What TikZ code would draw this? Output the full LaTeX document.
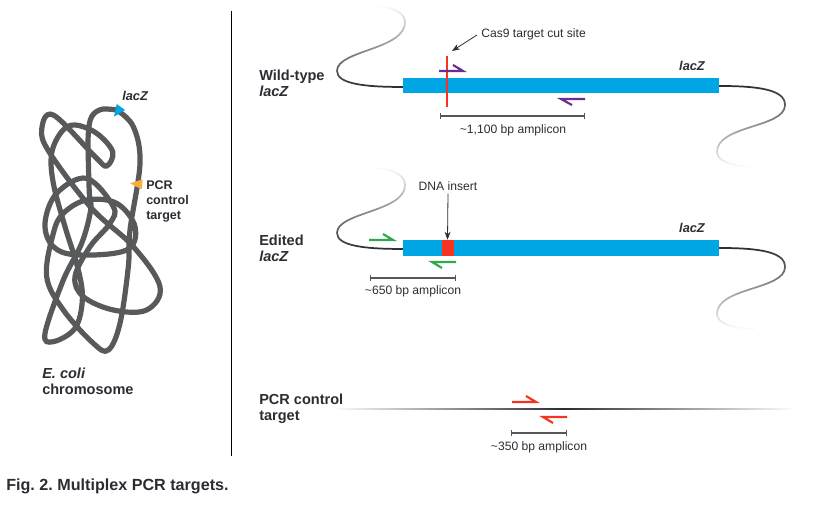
\documentclass[tikz,border=0pt]{standalone}
\usepackage{fontspec}
\setmainfont{Liberation Sans}
\usetikzlibrary{fadings,arrows.meta}
\definecolor{barblue}{HTML}{00A5E3}
\definecolor{chromgray}{HTML}{58595B}
\definecolor{inkdark}{HTML}{2B2D33}
\definecolor{cutred}{HTML}{F5341F}
\definecolor{primerpurple}{HTML}{6A2C91}
\definecolor{primergreen}{HTML}{2EA84A}
\definecolor{pinorange}{HTML}{F9AE3B}
\tikzfading[name=tailfade, bottom color=transparent!0, top color=transparent!100]
\tikzfading[name=taildown, top color=transparent!0, bottom color=transparent!100]
\tikzfading[name=midfade, left color=transparent!100, right color=transparent!100, middle color=transparent!0]
\frenchspacing
\tikzset{
	boldlabel/.style={inner sep=0pt, anchor=west, align=left, text=inkdark, font=\fontsize{10.9}{12}\selectfont\bfseries},
	smalllabel/.style={inner sep=0pt, text=inkdark, font=\fontsize{9.1}{10}\selectfont},
	genelabel/.style={inner sep=0pt, text=inkdark, font=\fontsize{9.6}{10}\selectfont\bfseries\itshape},
	genebar/.style={fill=barblue, draw=none},
	tailup/.style={line width=1.3pt, color=inkdark, path fading=tailfade},
	taillow/.style={line width=1.3pt, color=inkdark, path fading=taildown},
	primer/.style={line width=1.6pt, line join=miter},
	bracket/.style={line width=0.8pt, color=inkdark!80, {Bar[width=5pt]}-{Bar[width=5pt]}},
	pointer/.style={line width=0.6pt, color=inkdark, -{Stealth[length=6pt,width=4.5pt]}},
}

\begin{document}
\begin{tikzpicture}[x=0.75pt, y=-0.75pt]
			%%%%% START %%%%%
			\useasboundingbox (0, 0) rectangle (819, 505);
			
			\draw[line width=0.6pt, color=black] (231, 11) -- (231, 456);
			
			% chromosome
			\begin{scope}[shift={(20, 80)}, x=0.25pt, y=-0.25pt]
				\draw[line width=3.9pt, color=chromgray] plot[smooth, tension=0.6] coordinates {
					(290,90) (245,88) (215,110) (205,160) (205,240) (208,340) (212,390) (185,490) (130,600) (75,760) (100,785)
					(165,745) (187,660) (175,570) (135,440) (100,310) (95,220) (125,155) (165,135) (230,160) (278,215)
					(260,258) (225,230) (100,105) (65,150) (90,220) (215,385) (340,500) (420,620) (380,690) (280,690)
					(190,650) (165,590) (210,500) (270,430) (280,380) (200,295) (110,340) (75,430) (100,500) (175,525)
					(320,510) (345,440) (290,370) (200,360) (130,400) (100,460) (80,590) (130,690) (220,790) (265,810)
					(300,730) (325,560) (330,450) (360,250) (340,140) (290,90)};
				\fill[barblue] (290,72) -- (315,90) -- (282,110) -- cycle;
				\fill[pinorange] (330,310) -- (368,298) -- (365,328) -- cycle;
			\end{scope}
			\node[genelabel, anchor=west] (chromlacz) at (122, 95.5) {lacZ};
			\node[boldlabel, font=\fontsize{9.4}{11.3}\selectfont\bfseries] (pcrpin) at (146, 201.5) {PCR\\control\\target};
			\node[boldlabel] (chromlabel) at (42, 381.5) {\textit{E. coli}\\chromosome};
			
			% wild-type
			\node[boldlabel] (wildlabel) at (259, 83) {Wild-type\\\textit{lacZ}};
			\draw[tailup] (403, 87) .. controls (365, 87) and (337, 84) .. (337, 71) .. controls (337, 50) and (405, 50) .. (405, 22) .. controls (405, 10) and (385, 5) .. (363, 5);
			\draw[taillow] (719, 86) .. controls (760, 86) and (785, 90) .. (785, 105) .. controls (785, 128) and (717, 125) .. (717, 152) .. controls (717, 162) and (735, 167) .. (755, 167);
			\node[genebar, minimum width=316*0.75pt, minimum height=15*0.75pt, inner sep=0pt, anchor=north west] (wildbar) at (403, 78) {};
			\node[genelabel] (wildgene) at (692, 65.5) {lacZ};
			\draw[line width=1.4pt, color=cutred] (447, 56) -- (447, 107);
			\node[smalllabel, anchor=west] (caslabel) at (481, 34) {Cas9 target cut site};
			\coordinate (castip) at (452, 51);
			\draw[pointer] (caslabel.west) ++(-4, 1) -- (castip);
			\draw[primer, color=primerpurple] (439, 71) -- (463, 71) -- (453, 65);
			\draw[primer, color=primerpurple] (585, 99) -- (561, 99) -- (572, 105);
			\coordinate (wildleft) at (440, 116);
			\coordinate (wildright) at (585, 116);
			\draw[bracket] (wildleft) -- (wildright);
			\node[smalllabel] (wildamp) at (513, 130) {\textasciitilde 1,100 bp amplicon};
			
			% edited
			\node[boldlabel] (editlabel) at (259, 248.5) {Edited\\\textit{lacZ}};
			\draw[tailup] (403, 249) .. controls (365, 249) and (337, 246) .. (337, 233) .. controls (337, 212) and (405, 212) .. (405, 185) .. controls (405, 172) and (385, 167) .. (363, 167);
			\draw[taillow] (719, 248) .. controls (760, 248) and (785, 252) .. (785, 267) .. controls (785, 290) and (717, 287) .. (717, 314) .. controls (717, 324) and (735, 329) .. (755, 329);
			\node[genebar, minimum width=316*0.75pt, minimum height=16*0.75pt, inner sep=0pt, anchor=north west] (editbar) at (403, 240) {};
			\node[genelabel] (editgene) at (692, 227.5) {lacZ};
			\node[fill=cutred, minimum width=12*0.75pt, minimum height=16*0.75pt, inner sep=0pt] (insert) at (447.5, 248) {};
			\node[smalllabel] (insertlabel) at (448, 186) {DNA insert};
			\draw[pointer] (insertlabel.south) ++(0, 3) -- (insert.north);
			\draw[primer, color=primergreen] (369, 240) -- (393, 240) -- (383, 234);
			\draw[primer, color=primergreen] (456, 262) -- (432, 262) -- (442, 268);
			\coordinate (editleft) at (370, 278);
			\coordinate (editright) at (456, 278);
			\draw[bracket] (editleft) -- (editright);
			\node[smalllabel] (editamp) at (413, 291) {\textasciitilde 650 bp amplicon};
			
			% control
			\node[boldlabel] (ctrllabel) at (259, 409) {PCR control\\target};
			\fill[color=inkdark, path fading=midfade] (332, 408.4) rectangle (795, 410.2);
			\draw[primer, color=cutred] (512, 402) -- (536, 402) -- (526, 396);
			\draw[primer, color=cutred] (567, 417) -- (543, 417) -- (553, 423);
			\coordinate (ctrlleft) at (511, 433);
			\coordinate (ctrlright) at (567, 433);
			\draw[bracket] (ctrlleft) -- (ctrlright);
			\node[smalllabel] (ctrlamp) at (539, 447) {\textasciitilde 350 bp amplicon};
			
			\node[boldlabel, font=\fontsize{12.1}{14}\selectfont\bfseries] (caption) at (6, 486) {Fig. 2. Multiplex PCR targets.};
			%%%%% END %%%%%
		\end{tikzpicture}
\end{document}
